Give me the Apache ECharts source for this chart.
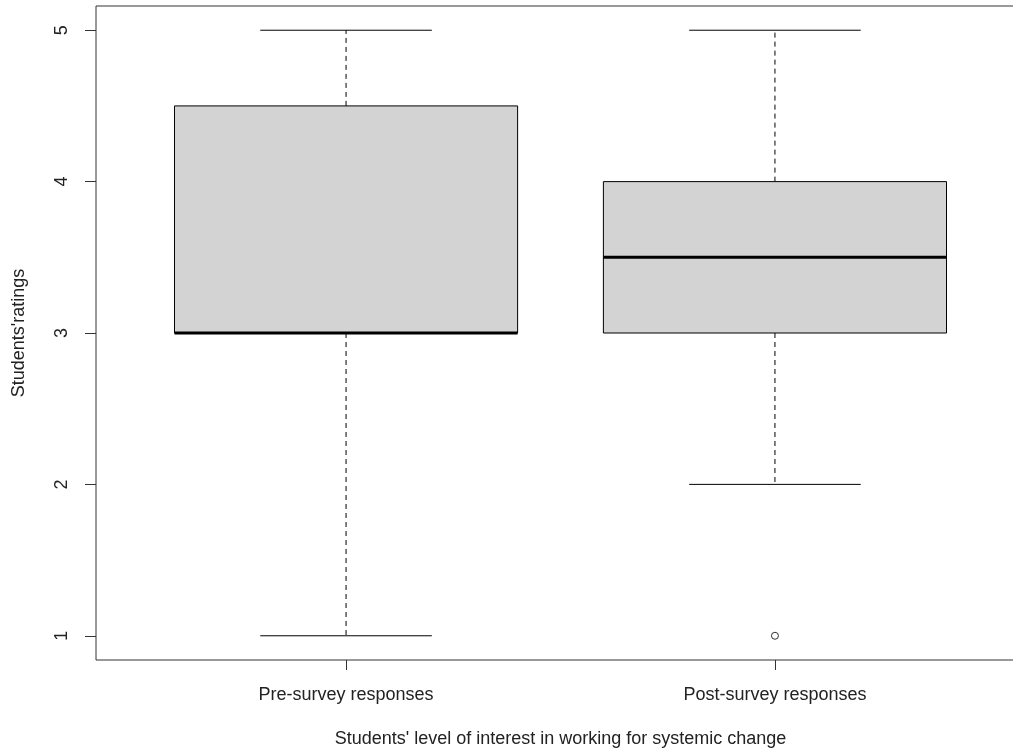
<!DOCTYPE html>
<html>
<head>
<meta charset="utf-8">
<script src="https://cdn.jsdelivr.net/npm/echarts@6/dist/echarts.min.js"></script>
<style>
  html, body { margin: 0; padding: 0; background: #fff; }
  #chart { width: 1013px; height: 750px; }
</style>
</head>
<body>
<div id="chart"></div>
<script>
// box stats, one entry per group
const categories = ['Pre-survey responses', 'Post-survey responses']
const mins = [1, 2]
const q1s = [3, 3]
const medians = [3, 3.5]
const q3s = [4.5, 4]
const maxs = [5, 5]
// outliers as [group position, value]
const outliers = [[2, 1]]
const yTicks = [1, 2, 3, 4, 5]

const font = "'Liberation Sans', Arial, sans-serif"
const ink = '#222'

const boxData = categories.map((c, i) => [i + 1, mins[i], q1s[i], medians[i], q3s[i], maxs[i]])

const renderBox = function (params, api) {
  const x = api.value(0)
  const lo = api.value(1), q1 = api.value(2), med = api.value(3), q3 = api.value(4), hi = api.value(5)
  const p = (dx, v) => api.coord([x + dx, v])
  const half = 0.4, cap = 0.2
  const solid = { stroke: '#000', lineWidth: 1 }
  const dashed = { stroke: '#000', lineWidth: 1, lineDash: [5, 4] }
  const line = (a, b, style) => ({
    type: 'line',
    shape: { x1: a[0], y1: a[1], x2: b[0], y2: b[1] },
    style: style
  })
  const tl = p(-half, q3), br = p(half, q1)
  return {
    type: 'group',
    children: [
      line(p(0, q3), p(0, hi), dashed),
      line(p(0, q1), p(0, lo), dashed),
      line(p(-cap, hi), p(cap, hi), solid),
      line(p(-cap, lo), p(cap, lo), solid),
      {
        type: 'rect',
        shape: { x: tl[0], y: tl[1], width: br[0] - tl[0], height: br[1] - tl[1] },
        style: { fill: '#d3d3d3', stroke: '#000', lineWidth: 1 }
      },
      line(p(-half, med), p(half, med), { stroke: '#000', lineWidth: 3 })
    ]
  }
}

const chart = echarts.init(document.getElementById('chart'), null, { renderer: 'canvas' })

chart.setOption({
  animation: false,
  backgroundColor: '#fff',
  textStyle: { fontFamily: font },
  grid: {
    left: 96, top: 6, width: 929, height: 654,
    containLabel: false,
    outerBoundsMode: 'none',
    show: true, borderColor: '#333', borderWidth: 1, backgroundColor: 'transparent'
  },
  xAxis: {
    type: 'value',
    min: 0.417,
    max: 2.583,
    name: "Students' level of interest in working for systemic change",
    nameLocation: 'middle',
    nameGap: 70,
    nameTextStyle: { color: ink, fontSize: 18, fontFamily: font },
    axisLine: { show: false },
    splitLine: { show: false },
    axisTick: { show: true, length: 10, customValues: [1, 2], lineStyle: { color: '#333' } },
    axisLabel: {
      customValues: [1, 2],
      margin: 26,
      color: ink,
      fontSize: 18,
      fontFamily: font,
      formatter: v => categories[Math.round(v) - 1]
    }
  },
  yAxis: {
    type: 'value',
    min: 0.84,
    max: 5.16,
    name: "Students'ratings",
    nameLocation: 'middle',
    nameGap: 68,
    nameTextStyle: { color: ink, fontSize: 18, fontFamily: font },
    axisLine: { show: false },
    splitLine: { show: false },
    axisTick: { show: true, length: 11, customValues: yTicks, lineStyle: { color: '#333' } },
    axisLabel: {
      customValues: yTicks,
      rotate: 90,
      margin: 25,
      color: ink,
      fontSize: 18,
      fontFamily: font
    }
  },
  series: [
    {
      type: 'custom',
      renderItem: renderBox,
      encode: { x: 0, y: [1, 2, 3, 4, 5] },
      data: boxData,
      z: 2
    },
    {
      type: 'scatter',
      data: outliers,
      symbol: 'circle',
      symbolSize: 7,
      itemStyle: { color: '#fff', borderColor: '#000', borderWidth: 1 },
      z: 3
    }
  ]
})
</script>
</body>
</html>
